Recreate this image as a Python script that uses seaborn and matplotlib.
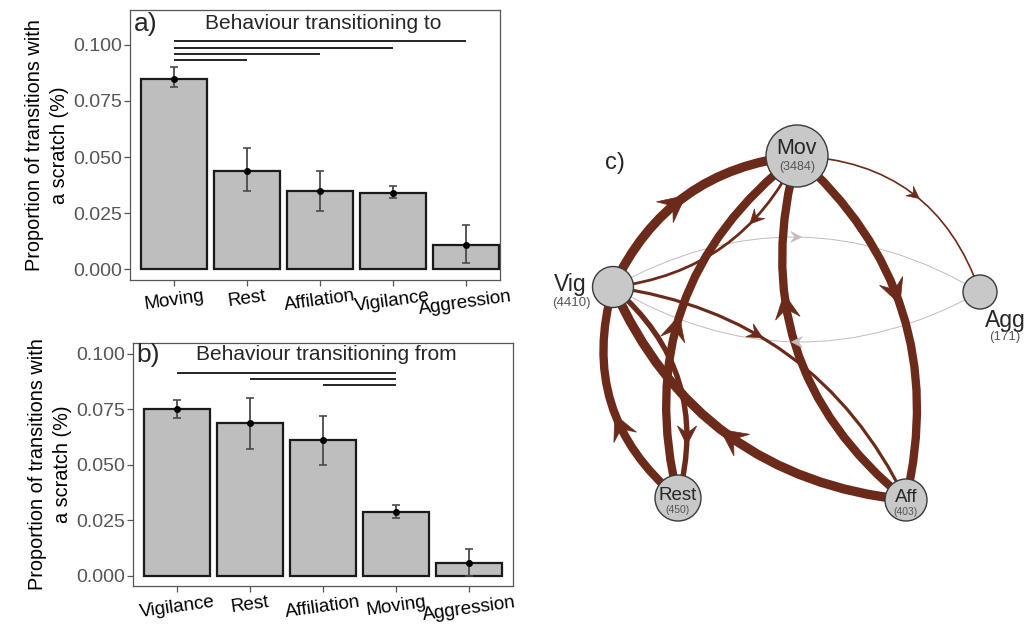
import numpy as np
import pandas as pd
import matplotlib
matplotlib.use("Agg")
import matplotlib.pyplot as plt
import seaborn as sns
from matplotlib.patches import Circle, PathPatch, Polygon
from matplotlib.path import Path

# ---------------- data ----------------
to_categories = ["Moving", "Rest", "Affilation", "Vigilance", "Aggression"]
to_values = [0.085, 0.044, 0.035, 0.034, 0.011]
to_lower = [0.081, 0.035, 0.026, 0.032, 0.003]
to_upper = [0.090, 0.054, 0.044, 0.037, 0.020]
to_pairs = [("Moving", "Rest"), ("Moving", "Affilation"),
            ("Moving", "Vigilance"), ("Moving", "Aggression")]

from_categories = ["Vigilance", "Rest", "Affiliation", "Moving", "Aggression"]
from_values = [0.075, 0.069, 0.061, 0.029, 0.006]
from_lower = [0.071, 0.057, 0.050, 0.026, 0.000]
from_upper = [0.079, 0.080, 0.072, 0.032, 0.012]
from_pairs = [("Affiliation", "Moving"), ("Rest", "Moving"),
              ("Vigilance", "Moving")]

y_ticks = [0.000, 0.025, 0.050, 0.075, 0.100]

node_names = ["Mov", "Vig", "Agg", "Rest", "Aff"]
node_counts = [3484, 4410, 171, 450, 403]
edge_source = ["Vig", "Rest", "Rest", "Vig", "Aff", "Aff", "Mov", "Mov", "Vig", "Agg", "Vig", "Mov"]
edge_target = ["Mov", "Vig", "Mov", "Rest", "Vig", "Mov", "Aff", "Agg", "Agg", "Vig", "Aff", "Vig"]
edge_strength = [0.95, 0.85, 0.85, 0.55, 0.95, 0.85, 0.85, 0.17, 0.08, 0.08, 0.32, 0.28]

# ---------------- layout / style ----------------
node_xy = {"Mov": (797, 156), "Vig": (613, 287), "Agg": (980, 292),
           "Rest": (678, 498), "Aff": (906, 500)}
node_r = {"Mov": 31, "Vig": 20.5, "Agg": 17, "Rest": 23, "Aff": 21}
edge_bend = [-0.142, -0.163, -0.162, -0.159, -0.144, -0.163, -0.148, -0.171, -0.143, -0.143, -0.133, -0.137]
arrow_t = [0.45, 0.40, 0.45, 0.75, 0.50, 0.62, 0.45, 0.52, 0.50, 0.50, 0.40, 0.32]

BAR = "#BEBEBE"
EDGE = "#6B2A1A"
FONT = ["Liberation Sans", "DejaVu Sans"]

sns.set_style("white")
plt.rcParams["font.family"] = FONT

W, H = 1026, 625
fig = plt.figure(figsize=(W / 100, H / 100), dpi=100)


def px_axes(l, t, r, b):
    return fig.add_axes([l / W, 1 - b / H, (r - l) / W, (b - t) / H])


def bar_panel(ax, cats, vals, lo, hi, pairs, ylim, xlim, title, tag, base, step, title_y):
    df = pd.DataFrame({"cat": cats, "val": vals})
    sns.barplot(data=df, x="cat", y="val", order=cats, color=BAR, saturation=1,
                edgecolor="#1a1a1a", linewidth=1.6, width=0.9, errorbar=None, ax=ax)
    x = np.arange(len(cats))
    v = np.array(vals)
    ax.errorbar(x, v, yerr=[v - np.array(lo), np.array(hi) - v], fmt="o", ms=4,
                color="black", ecolor="#4a4a4a", elinewidth=1.3, capsize=3,
                capthick=1.2, zorder=5)
    for k, (a, b) in enumerate(pairs):
        i, j = cats.index(a), cats.index(b)
        yy = base + step * k
        ax.plot([i, j], [yy, yy], color="black", lw=1.2, solid_capstyle="butt")
    ax.set_ylim(*ylim)
    ax.set_xlim(*xlim)
    ax.set_yticks(y_ticks)
    ax.set_yticklabels([f"{t:.3f}" for t in y_ticks])
    ax.set_xlabel("")
    ax.set_ylabel("Proportion of transitions with\na scratch (%)", fontsize=14.3,
                  color="black", labelpad=3, linespacing=1.35)
    for s in ax.spines.values():
        s.set_visible(True)
        s.set_color("#555555")
        s.set_linewidth(0.9)
    ax.tick_params(axis="y", labelsize=14, labelcolor="#555555", color="#555555",
                   length=4, width=0.9, direction="out", left=True, pad=2)
    ax.tick_params(axis="x", labelsize=13.6, labelcolor="black", color="#555555",
                   length=4, width=0.9, direction="out", bottom=True, pad=1.5)
    for lab in ax.get_xticklabels():
        lab.set_rotation(8)
        lab.set_ha("center")
    ax.text(2.05, title_y, title, ha="center", va="center", fontsize=15)
    ax.text(0.01, 0.95, tag, transform=ax.transAxes, ha="left", va="center",
            fontsize=19)


ax_a = px_axes(130, 10, 500, 280)
bar_panel(ax_a, to_categories, to_values, to_lower, to_upper, to_pairs,
          (-0.0047, 0.1155), (-0.6, 4.47), "Behaviour transitioning to", "a)",
          0.0933, 0.00275, 0.1095)

ax_b = px_axes(133, 343, 513, 586)
bar_panel(ax_b, from_categories, from_values, from_lower, from_upper, from_pairs,
          (-0.0045, 0.1048), (-0.6, 4.6), "Behaviour transitioning from", "b)",
          0.0860, 0.00265, 0.0995)

# ---------------- network panel ----------------
axc = px_axes(548, 0, W, H)
axc.set_xlim(548, W)
axc.set_ylim(H, 0)
axc.axis("off")

PT = 0.72  # points per pixel


def bez(p0, p1, p2, t):
    return (1 - t) ** 2 * p0 + 2 * (1 - t) * t * p1 + t ** 2 * p2


def bez_d(p0, p1, p2, t):
    return 2 * (1 - t) * (p1 - p0) + 2 * t * (p2 - p1)


order = np.argsort(edge_strength)
for k in order:
    s, t_, w = edge_source[k], edge_target[k], edge_strength[k]
    p0 = np.array(node_xy[s], float)
    p2 = np.array(node_xy[t_], float)
    d = p2 - p0
    L = np.hypot(*d)
    n = np.array([-d[1], d[0]]) / L
    mid = (p0 + p2) / 2 + edge_bend[k] * L * n
    p1 = 2 * mid - (p0 + p2) / 2
    width_px = max(1.0, 9.8 * w)
    alpha = min(1.0, w / 0.16)
    if alpha < 1:
        col = tuple(np.array(matplotlib.colors.to_rgb(EDGE)) * alpha * 0.3 + (1 - alpha * 0.3) * 0.84)
    else:
        col = EDGE
    path = Path([p0, p1, p2], [Path.MOVETO, Path.CURVE3, Path.CURVE3])
    axc.add_patch(PathPatch(path, fc="none", ec=col, lw=width_px * PT,
                            capstyle="butt", zorder=2))
    ta = arrow_t[k]
    tip = bez(p0, p1, p2, ta)
    u = bez_d(p0, p1, p2, ta)
    u = u / np.hypot(*u)
    nn = np.array([-u[1], u[0]])
    AL = 9 + 1.9 * width_px
    AW = 0.5 * AL
    tip = tip + u * AL * 0.4
    poly = [tip, tip - AL * u + AW * nn, tip - 0.62 * AL * u, tip - AL * u - AW * nn]
    axc.add_patch(Polygon(poly, closed=True, fc=col, ec=col, lw=0.5, zorder=3))

for name, cnt in zip(node_names, node_counts):
    x, y = node_xy[name]
    axc.add_patch(Circle((x, y), node_r[name], fc="#C8C8C8", ec="#3a3a3a",
                         lw=1.0, zorder=4))
    if name == "Mov":
        axc.text(x, y - 8, name, ha="center", va="center", fontsize=15.5, zorder=5)
        axc.text(x, y + 11, f"({cnt})", ha="center", va="center", fontsize=9,
                 color="#555555", zorder=5)
    elif name == "Vig":
        axc.text(x - 26, y - 2, name, ha="right", va="center", fontsize=16.5, zorder=5)
        axc.text(x - 22, y + 16, f"({cnt})", ha="right", va="center", fontsize=9.5,
                 color="#555555", zorder=5)
    elif name == "Agg":
        axc.text(x + 25, y + 28, name, ha="center", va="center", fontsize=16.5, zorder=5)
        axc.text(x + 25, y + 45, f"({cnt})", ha="center", va="center", fontsize=9.5,
                 color="#555555", zorder=5)
    else:
        axc.text(x, y - 2, name, ha="center", va="center", fontsize=13.5, zorder=5)
        axc.text(x, y + 12, f"({cnt})", ha="center", va="center", fontsize=7.5,
                 color="#555555", zorder=5)

axc.text(615, 163, "c)", ha="center", va="center", fontsize=17)

fig.savefig("out.png", dpi=100, facecolor="white")
